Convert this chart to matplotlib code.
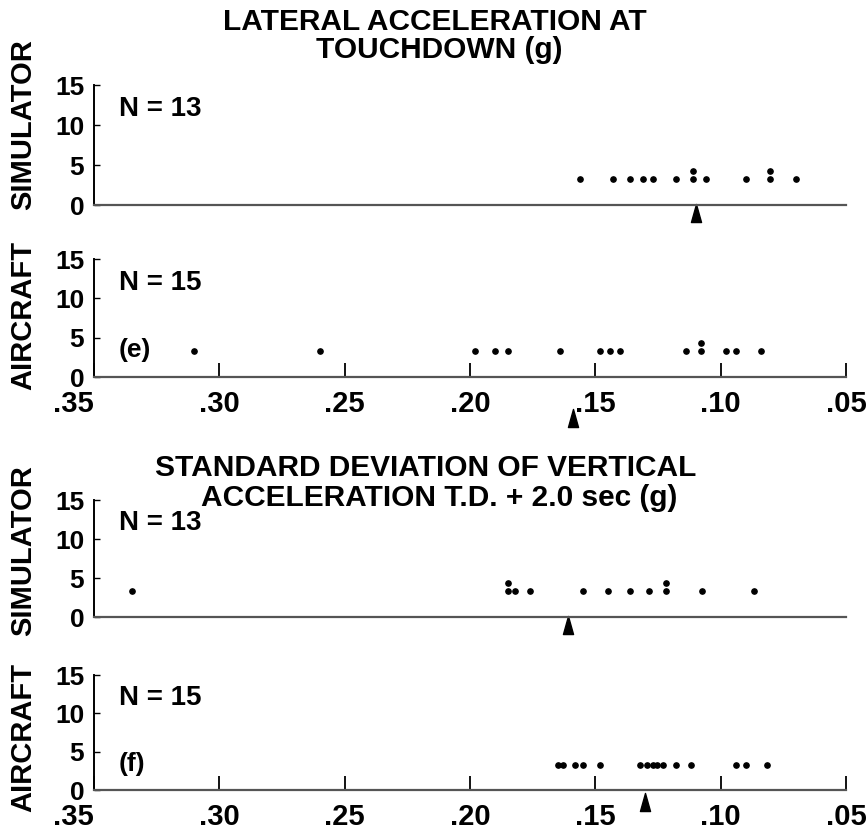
import matplotlib
matplotlib.use("Agg")
import matplotlib.pyplot as plt
from matplotlib.path import Path
from matplotlib.transforms import blended_transform_factory
from collections import Counter

# Données (une valeur répétée = points empilés)
sim_lateral = [0.156, 0.143, 0.136, 0.131, 0.127, 0.118, 0.111, 0.111,
               0.106, 0.090, 0.0805, 0.0805, 0.070]
air_lateral = [0.310, 0.260, 0.198, 0.190, 0.185, 0.164, 0.148, 0.144,
               0.140, 0.114, 0.108, 0.108, 0.098, 0.094, 0.084]
sim_sdvert = [0.335, 0.185, 0.185, 0.182, 0.176, 0.155, 0.145, 0.136,
              0.1285, 0.122, 0.122, 0.1075, 0.0867]
air_sdvert = [0.165, 0.163, 0.158, 0.155, 0.148, 0.132, 0.1295, 0.127,
              0.1253, 0.123, 0.118, 0.112, 0.094, 0.090, 0.0815]

# moyennes (flèches)
mean_sim_lateral = 0.110
mean_air_lateral = 0.159
mean_sim_sdvert = 0.161
mean_air_sdvert = 0.130

x_ticks = [0.35, 0.30, 0.25, 0.20, 0.15, 0.10, 0.05]
x_ticklabels = [".35", ".30", ".25", ".20", ".15", ".10", ".05"]
y_ticks = [0, 5, 10, 15]

NARROW = ["Liberation Sans Narrow", "Liberation Sans", "DejaVu Sans"]
WIDE = ["Liberation Sans", "DejaVu Sans"]
plt.rcParams["font.family"] = WIDE
plt.rcParams["font.weight"] = "bold"

arrow = Path([(-0.28, -0.5), (0.28, -0.5), (0.0, 0.5), (-0.28, -0.5)],
             [Path.MOVETO, Path.LINETO, Path.LINETO, Path.CLOSEPOLY])

fig = plt.figure(figsize=(8.68, 8.31), dpi=100)

# [gauche, bas, largeur, hauteur] en fraction de figure
panels = [
    ([0.1083, 0.7533, 0.8664, 0.1444], sim_lateral, mean_sim_lateral, -0.07, "N = 13", None, False),
    ([0.1083, 0.5463, 0.8664, 0.1420], air_lateral, mean_air_lateral, -0.35, "N = 15", "(e)", True),
    ([0.1083, 0.2575, 0.8664, 0.1408], sim_sdvert, mean_sim_sdvert, -0.07, "N = 13", None, False),
    ([0.1083, 0.0493, 0.8664, 0.1384], air_sdvert, mean_air_sdvert, -0.10, "N = 15", "(f)", True),
]

for rect, values, mean, arrow_y, ntext, tag, show_x in panels:
    ax = fig.add_axes(rect)
    counts = Counter()
    xs, ys = [], []
    for v in values:
        xs.append(v)
        ys.append(3.3 + 1.0 * counts[v])
        counts[v] += 1
    ax.plot(xs, ys, "o", color="black", markersize=3.8, linestyle="none", clip_on=False)

    trans = blended_transform_factory(ax.transData, ax.transAxes)
    ax.plot([mean], [arrow_y], marker=arrow, markersize=13, color="black",
            transform=trans, clip_on=False)

    ax.set_xlim(0.35, 0.05)
    ax.set_ylim(0, 15)
    ax.spines["top"].set_visible(False)
    ax.spines["right"].set_visible(False)
    ax.spines["left"].set_linewidth(1.4)
    ax.spines["bottom"].set_linewidth(1.6)
    ax.spines["bottom"].set_color("#555555")

    ax.set_yticks(y_ticks)
    ax.set_yticklabels([str(t) for t in y_ticks], fontsize=19, fontweight="bold")
    ax.tick_params(axis="y", direction="in", length=4, width=1, pad=7)

    if show_x:
        ax.set_xticks(x_ticks)
        ax.set_xticklabels(x_ticklabels, fontsize=21, fontweight="bold")
        ax.tick_params(axis="x", direction="in", length=10, width=1.3, pad=9)
        ax.get_xticklabels()[0].set_horizontalalignment("right")
    else:
        ax.set_xticks([])

    ax.text(0.033, 0.8, ntext, transform=ax.transAxes, fontsize=20,
            fontweight="bold", va="center", ha="left")
    if tag:
        ax.text(0.033, 0.23, tag, transform=ax.transAxes, fontsize=19,
                fontweight="bold", va="center", ha="left")

# titres
fig.text(0.501, 0.973, "LATERAL ACCELERATION AT", ha="center", va="center",
         fontsize=21.5, fontweight="bold", family=NARROW)
fig.text(0.506, 0.940, "TOUCHDOWN (g)", ha="center", va="center",
         fontsize=21.5, fontweight="bold", family=NARROW)
fig.text(0.49, 0.437, "STANDARD DEVIATION OF VERTICAL", ha="center", va="center",
         fontsize=21.5, fontweight="bold", family=NARROW)
fig.text(0.506, 0.401, "ACCELERATION T.D. + 2.0 sec (g)",
         ha="center", va="center", fontsize=21.5, fontweight="bold", family=NARROW)

# étiquettes des rangées
for yc, label in [(0.85, "SIMULATOR"), (0.621, "AIRCRAFT"),
                  (0.338, "SIMULATOR"), (0.112, "AIRCRAFT")]:
    fig.text(0.027, yc, label, rotation=90, ha="center", va="center",
             fontsize=21, fontweight="bold", family=NARROW)

fig.savefig("out.png", dpi=100)
